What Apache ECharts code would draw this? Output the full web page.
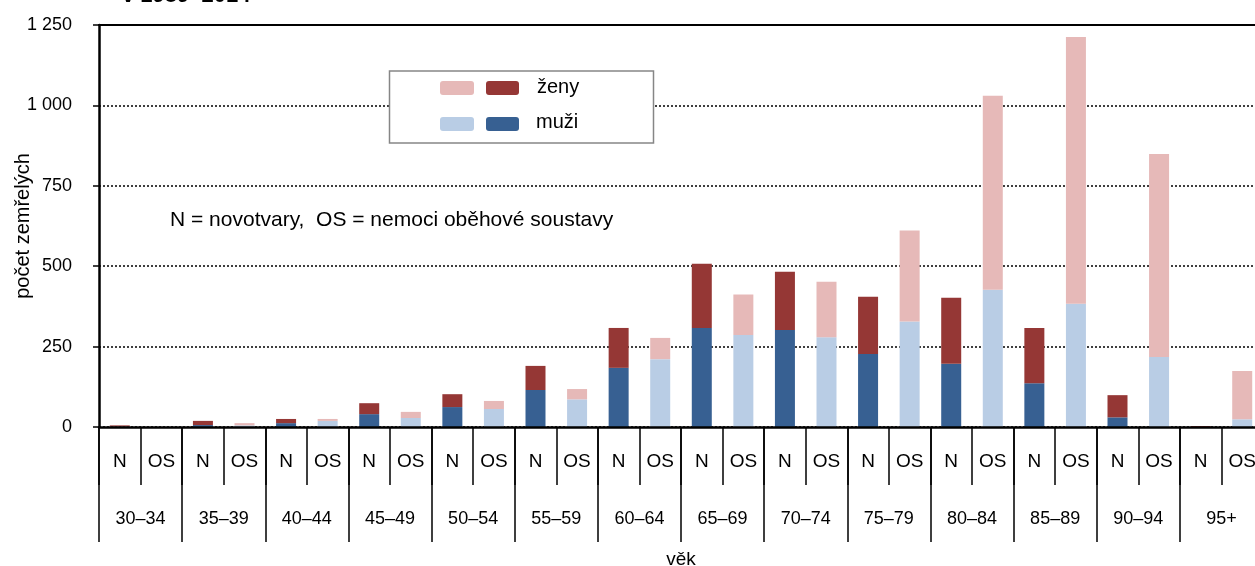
<!DOCTYPE html>
<html>
<head>
<meta charset="utf-8">
<title>Zemřelí podle věku</title>
<script src="https://cdn.jsdelivr.net/npm/echarts@6/dist/echarts.min.js"></script>
<style>
  html, body { margin: 0; padding: 0; background: #fff; }
  #chart { width: 1255px; height: 566px; }
</style>
</head>
<body>
<div id="chart"></div>
<script>
// age groups and the two causes inside each group
const ageGroups = ['30–34', '35–39', '40–44', '45–49', '50–54', '55–59', '60–64',
                   '65–69', '70–74', '75–79', '80–84', '85–89', '90–94', '95+'];
const causes = ['N', 'OS'];

// values in order N, OS for each age group
const muzi = [1, 0, 6, 5, 12, 19, 40, 28, 62, 56, 115, 86, 184, 211,
              308, 286, 302, 279, 227, 328, 197, 427, 136, 383, 30, 218, 0, 24];
const zeny = [4, 0, 13, 7, 13, 6, 34, 19, 40, 25, 75, 32, 124, 66,
              200, 126, 181, 173, 178, 283, 205, 603, 172, 830, 69, 631, 3, 150];

const yTicks = [0, 250, 500, 750, 1000, 1250];

const colorMuziN = '#376092';
const colorMuziOS = '#B9CDE5';
const colorZenyN = '#953735';
const colorZenyOS = '#E6B9B8';
const fontFamily = 'Liberation Sans, Arial, sans-serif';

const innerCats = [];
ageGroups.forEach(() => causes.forEach(c => innerCats.push(c)));

const chart = echarts.init(document.getElementById('chart'));

function fmt(v) {
    return String(v).replace(/\B(?=(\d{3})+(?!\d))/g, ' ');
}

chart.setOption({
    animation: false,
    textStyle: { fontFamily: fontFamily, color: '#000' },
    grid: {
        left: 99,
        top: 25,
        width: 1164,
        bottom: 139,
        containLabel: false,
        outerBoundsMode: 'none'
    },
    xAxis: [
        {
            type: 'category',
            data: innerCats,
            position: 'bottom',
            axisLine: { show: true, lineStyle: { color: '#000', width: 2.5 } },
            axisTick: { show: true, interval: 0, length: 58, lineStyle: { color: '#000', width: 1.5 } },
            axisLabel: { interval: 0, margin: 25, fontSize: 19, color: '#000', fontFamily: fontFamily },
            z: 10
        },
        {
            type: 'category',
            data: ageGroups,
            position: 'bottom',
            offset: 0,
            name: 'věk',
            nameLocation: 'middle',
            nameGap: 123,
            nameMoveOverlap: false,
            nameTextStyle: { fontSize: 19, color: '#000', fontFamily: fontFamily },
            axisLine: { show: false },
            axisTick: { show: true, interval: 0, length: 115, lineStyle: { color: '#000', width: 1.5 } },
            axisLabel: { interval: 0, margin: 83, fontSize: 18, color: '#000', fontFamily: fontFamily }
        },
        {
            type: 'category',
            data: innerCats,
            position: 'top',
            axisLine: { show: true, lineStyle: { color: '#000', width: 2 } },
            axisTick: { show: false },
            axisLabel: { show: false }
        }
    ],
    yAxis: {
        type: 'value',
        min: yTicks[0],
        max: yTicks[yTicks.length - 1],
        interval: 250,
        name: 'počet zemřelých',
        nameLocation: 'middle',
        nameGap: 66,
        nameMoveOverlap: false,
        nameTextStyle: { fontSize: 20, color: '#000', fontFamily: fontFamily },
        axisLine: { show: true, lineStyle: { color: '#000', width: 2.5 } },
        axisTick: { show: true, length: 6, lineStyle: { color: '#000', width: 1.5 } },
        axisLabel: { margin: 27, fontSize: 18, color: '#000', fontFamily: fontFamily, formatter: fmt },
        splitLine: { show: true, lineStyle: { color: '#000', width: 1.5, type: [2, 2] } }
    },
    series: [
        {
            name: 'muži',
            type: 'bar',
            stack: 'total',
            barWidth: 20,
            data: muzi,
            itemStyle: {
                color: p => (p.dataIndex % 2 === 0 ? colorMuziN : colorMuziOS)
            }
        },
        {
            name: 'ženy',
            type: 'bar',
            stack: 'total',
            barWidth: 20,
            data: zeny,
            itemStyle: {
                color: p => (p.dataIndex % 2 === 0 ? colorZenyN : colorZenyOS)
            }
        }
    ],
    graphic: [
        {
            type: 'text',
            left: 122,
            top: -15,
            style: { text: 'v 1989–2014', font: 'bold 22px ' + fontFamily, fill: '#000' }
        },
        {
            type: 'text',
            left: 170,
            top: 210,
            style: { text: 'N = novotvary,  OS = nemoci oběhové soustavy', font: '21px ' + fontFamily, fill: '#000' }
        },
        // legend box
        {
            type: 'rect',
            shape: { x: 389.5, y: 71, width: 264, height: 72 },
            style: { fill: '#fff', stroke: '#868686', lineWidth: 1.5 },
            z: 20
        },
        { type: 'rect', shape: { x: 440, y: 81, width: 34, height: 14, r: 3 }, style: { fill: colorZenyOS }, z: 21 },
        { type: 'rect', shape: { x: 486, y: 81, width: 33, height: 14, r: 3 }, style: { fill: colorZenyN }, z: 21 },
        { type: 'text', left: 537, top: 77, style: { text: 'ženy', font: '20px ' + fontFamily, fill: '#000' }, z: 21 },
        { type: 'rect', shape: { x: 440, y: 117, width: 34, height: 14, r: 3 }, style: { fill: colorMuziOS }, z: 21 },
        { type: 'rect', shape: { x: 486, y: 117, width: 33, height: 14, r: 3 }, style: { fill: colorMuziN }, z: 21 },
        { type: 'text', left: 536, top: 112, style: { text: 'muži', font: '20px ' + fontFamily, fill: '#000' }, z: 21 }
    ]
});
</script>
</body>
</html>
